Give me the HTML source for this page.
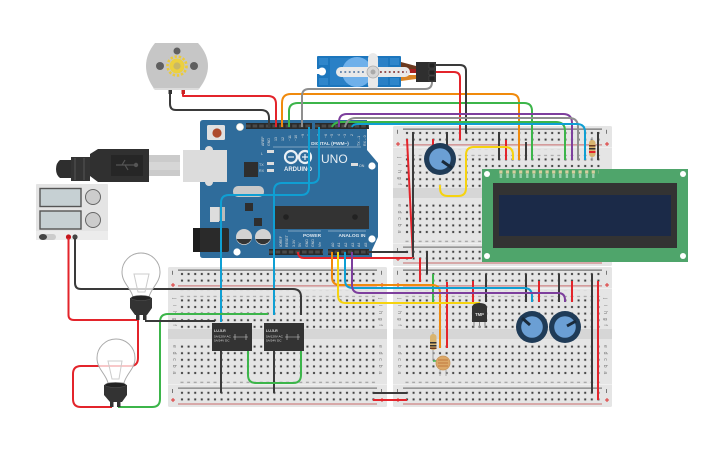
<!DOCTYPE html>
<html><head><meta charset="utf-8"><style>
html,body{margin:0;padding:0;background:#fff}
svg{display:block}
text{font-family:"Liberation Sans",sans-serif}
.w{fill:none;stroke-width:2;stroke-linecap:butt;stroke-linejoin:round}
.r{stroke:#e3242b}.k{stroke:#3a3a3a}.g{stroke:#3cb54a}.o{stroke:#f08a0c}.p{stroke:#7d3f9d}.b{stroke:#0f9fd3}.y{stroke:#f6d30f}.n{stroke:#8f8f8f}
.l{font-size:3.6px;fill:#ddd}
.bl{font-size:5px;fill:#777}
</style></head><body>
<svg width="725" height="453" viewBox="0 0 725 453" xmlns="http://www.w3.org/2000/svg">
<defs>
<pattern id="h" patternUnits="userSpaceOnUse" x="10.7" y="3.7" width="6.6" height="6.6"><rect width="6.6" height="6.6" fill="none"/><circle cx="3.3" cy="3.3" r="1.5" fill="#c9c9c9"/><rect x="2.4" y="2.4" width="1.8" height="1.8" fill="#3d3d3d"/></pattern>
<pattern id="d" patternUnits="userSpaceOnUse" x="10.7" y="0" width="6.6" height="6.6"><rect x="1.8" y="2.5" width="3" height="1.4" fill="#a8a8a8"/></pattern>
<g id="bb">
<rect x="0" y="0" width="219" height="140" rx="1.5" fill="#e5e5e5"/>
<rect x="0" y="21" width="219" height="1" fill="#efefef"/>
<rect x="0" y="117" width="219" height="1" fill="#efefef"/>
<rect x="0" y="62" width="219" height="10" fill="#d6d6d6"/>
<rect x="10" y="2.6" width="199" height="1" fill="#555"/>
<rect x="10" y="18.4" width="199" height="1" fill="#c96a6a"/>
<rect x="10" y="120.6" width="199" height="1" fill="#666"/>
<rect x="10" y="136.5" width="199" height="1" fill="#c96a6a"/>
<rect x="10.7" y="3.7" width="198" height="13.2" fill="url(#h)"/>
<rect x="10.7" y="30.1" width="198" height="33" fill="url(#h)"/>
<rect x="10.7" y="76.9" width="198" height="33" fill="url(#h)"/>
<rect x="10.7" y="122.5" width="198" height="13.2" fill="url(#h)"/>
<rect x="10.7" y="23.6" width="198" height="6.6" fill="url(#d)"/>
<rect x="10.7" y="110" width="198" height="6.6" fill="url(#d)"/>
<rect x="4" y="3.8" width="1" height="4" fill="#777"/><rect x="213" y="3.8" width="1" height="4" fill="#777"/>
<rect x="4" y="122" width="1" height="4" fill="#777"/><rect x="213" y="122" width="1" height="4" fill="#777"/>
<path d="M3 18h4M5 16v4M212 18h4M214 16v4M3 133h4M5 131v4M212 133h4M214 131v4" stroke="#d33" stroke-width="1" fill="none"/>
</g>
</defs>

<!-- breadboards -->
<use href="#bb" transform="translate(393,126)"/>
<use href="#bb" transform="translate(393,267)"/>
<use href="#bb" transform="translate(168,267)"/>
<text class="bl" transform="translate(398,157) rotate(90)" x="0 6.6 13.2 19.8 26.4">jihgf</text>
<text class="bl" transform="translate(398,204) rotate(90)" x="0 6.6 13.2 19.8 26.4">edcba</text>
<text class="bl" transform="translate(398,298) rotate(90)" x="0 6.6 13.2 19.8 26.4">jihgf</text>
<text class="bl" transform="translate(398,345) rotate(90)" x="0 6.6 13.2 19.8 26.4">edcba</text>
<text class="bl" transform="translate(604,298) rotate(90)" x="0 6.6 13.2 19.8 26.4">jihgf</text>
<text class="bl" transform="translate(604,345) rotate(90)" x="0 6.6 13.2 19.8 26.4">edcba</text>
<text class="bl" transform="translate(173,298) rotate(90)" x="0 6.6 13.2 19.8 26.4">jihgf</text>
<text class="bl" transform="translate(173,345) rotate(90)" x="0 6.6 13.2 19.8 26.4">edcba</text>
<text class="bl" transform="translate(379,298) rotate(90)" x="0 6.6 13.2 19.8 26.4">jihgf</text>
<text class="bl" transform="translate(379,345) rotate(90)" x="0 6.6 13.2 19.8 26.4">edcba</text>

<!-- motor -->
<path d="M155 43H198Q208 54 208 66Q208 78 198 90H155Q146 78 146 66Q146 54 155 43Z" fill="#c6c6c6"/>
<path d="M153 88H200L198 90H155Z" fill="#dcdcdc"/>
<circle cx="177" cy="51" r="3.5" fill="#5f5f5f"/><circle cx="160" cy="66" r="4" fill="#5f5f5f"/><circle cx="194" cy="66" r="4" fill="#5f5f5f"/>
<circle cx="177" cy="66" r="9.5" fill="none" stroke="#eccb3a" stroke-width="2.6" stroke-dasharray="2.4 1.8"/>
<circle cx="177" cy="66" r="7.5" fill="#ecd03f"/><circle cx="177" cy="66" r="3.6" fill="#c9b866"/>
<rect x="168.5" y="90" width="3.5" height="4" fill="#333"/><rect x="181.5" y="90" width="3.5" height="4" fill="#c22"/>

<!-- USB -->
<rect x="149" y="155" width="31" height="21" fill="#cbcbcb"/><rect x="149" y="162" width="31" height="8" fill="#d6d6d6"/>
<path d="M60 160H71V178H60Q56 175 56 169Q56 163 60 160Z" fill="#2e2e2e"/>
<path d="M71 157H90V181H71Z" fill="#333"/><path d="M75 158v22M84 158v22" stroke="#555" stroke-width="1"/>
<path d="M90 154L98 149H149V182H98L90 176Z" fill="#303030"/>
<rect x="111" y="155" width="32" height="21" fill="#262626"/>
<path d="M116 165H137M122 165L125 160M125 165L128 170" stroke="#555" stroke-width="1.2" fill="none"/><circle cx="136" cy="165" r="2.2" fill="#555"/>

<!-- power supply -->
<rect x="36" y="184" width="72" height="56" rx="1" fill="#e4e4e4"/>
<rect x="36" y="231" width="72" height="9" fill="#ececec"/>
<rect x="40" y="188.500" width="41" height="18" fill="#c6d0d3" stroke="#555" stroke-width="1.4"/>
<rect x="40" y="211" width="41" height="18" fill="#c6d0d3" stroke="#555" stroke-width="1.4"/>
<circle cx="93" cy="197" r="7.500" fill="#ccc" stroke="#666" stroke-width="1"/>
<circle cx="93" cy="220" r="7.500" fill="#ccc" stroke="#666" stroke-width="1"/>
<rect x="39" y="234" width="17" height="6" rx="3" fill="#ccc"/><ellipse cx="43" cy="237" rx="4" ry="3" fill="#444"/>
<circle cx="68.500" cy="237" r="2.600" fill="#c3161c"/><circle cx="75" cy="237" r="2.600" fill="#444"/>

<!-- arduino -->
<path d="M203 120H367L367 150L378 163V237L372 250V258H203Q200 258 200 255V123Q200 120 203 120Z" fill="#2f6c9b"/>
<rect x="246" y="123" width="66" height="6" fill="#2a2a2a"/><rect x="315" y="123" width="54" height="6" fill="#2a2a2a"/>
<rect x="269" y="249" width="54" height="6" fill="#2a2a2a"/><rect x="328" y="249" width="41" height="6" fill="#2a2a2a"/>
<path d="M246 126H312M315 126H369M269 252H323M328 252H369" stroke="#4a4a4a" stroke-width="3" stroke-dasharray="4.600 2"/>
<circle cx="240" cy="127" r="3.600" fill="#fff" stroke="#ddc" stroke-width=".6"/><circle cx="372" cy="166" r="3.600" fill="#fff"/><circle cx="372" cy="239" r="3.600" fill="#fff"/><circle cx="237" cy="252" r="3.600" fill="#fff"/>
<rect x="207" y="125" width="18" height="15" rx="1.500" fill="#e0e0e0"/><circle cx="217" cy="133" r="4.600" fill="#ad4a2b"/>
<circle cx="209" cy="150" r="4" fill="#dcdcdc"/><circle cx="209" cy="182" r="4" fill="#dcdcdc"/>
<rect x="183" y="150" width="44" height="32" fill="#dcdcdc"/>
<rect x="244" y="162" width="14" height="15" fill="#2e2e2e"/>
<rect x="233" y="186" width="31" height="11" rx="5" fill="#c9c9c9"/>
<rect x="245" y="203" width="8" height="8" fill="#2e2e2e"/><rect x="210" y="207" width="9" height="15" fill="#ddd"/><rect x="219" y="207" width="6" height="14" fill="#bbb"/>
<rect x="254" y="218" width="8" height="8" fill="#2e2e2e"/>
<rect x="273" y="206" width="96" height="23" fill="#333"/>
<circle cx="286" cy="217" r="2.800" fill="#222"/><circle cx="355" cy="217" r="2.800" fill="#222"/>
<rect x="193" y="228" width="36" height="24" rx="2" fill="#2a2a2a"/><rect x="193" y="228" width="7" height="24" fill="#1d1d1d"/>
<circle cx="244" cy="237" r="8" fill="#d2d2d2"/><path d="M236.500 239A8 8 0 0 0 251.500 239Z" fill="#333"/>
<circle cx="263" cy="237" r="8" fill="#d2d2d2"/><path d="M255.500 239A8 8 0 0 0 270.500 239Z" fill="#333"/>
<path d="M273 147H361M288 231H321M328 231H366" stroke="#cfdbe5" stroke-width=".6"/>
<circle cx="291" cy="157" r="6" fill="none" stroke="#eaf0f5" stroke-width="2.200"/><circle cx="305" cy="157" r="6" fill="none" stroke="#eaf0f5" stroke-width="2.200"/>
<path d="M288 157h6M302 157h6M305 154v6" stroke="#eaf0f5" stroke-width="1.200"/>
<text x="298" y="171" text-anchor="middle" font-size="6" font-weight="bold" fill="#e8eef3">ARDUINO</text>
<text x="321" y="163" font-size="12" fill="#e8eef3">UNO</text>
<text x="330" y="145" text-anchor="middle" font-size="4.800" font-weight="bold" fill="#dce6ee">DIGITAL (PWM~)</text>
<text x="312" y="237" text-anchor="middle" font-size="4.800" font-weight="bold" fill="#dce6ee">POWER</text>
<text x="352" y="237" text-anchor="middle" font-size="4.800" font-weight="bold" fill="#dce6ee">ANALOG IN</text>
<g class="l">
<text transform="translate(264,146) rotate(-90)">AREF</text><text transform="translate(270,146) rotate(-90)">GND</text>
<text transform="translate(277,141) rotate(-90)">13</text><text transform="translate(284,141) rotate(-90)">12</text><text transform="translate(291,141) rotate(-90)">~11</text><text transform="translate(297,141) rotate(-90)">~10</text><text transform="translate(304,138) rotate(-90)">~9</text><text transform="translate(310,136) rotate(-90)">8</text>
<text transform="translate(320,136) rotate(-90)">7</text><text transform="translate(327,138) rotate(-90)">~6</text><text transform="translate(333,138) rotate(-90)">~5</text><text transform="translate(340,136) rotate(-90)">4</text><text transform="translate(346,138) rotate(-90)">~3</text><text transform="translate(353,136) rotate(-90)">2</text><text transform="translate(360,146) rotate(-90)">TX→1</text><text transform="translate(366,146) rotate(-90)">RX←0</text>
<text transform="translate(282,247) rotate(-90)">IOREF</text><text transform="translate(288,247) rotate(-90)">RESET</text><text transform="translate(295,247) rotate(-90)">3.3V</text><text transform="translate(301,247) rotate(-90)">5V</text><text transform="translate(308,247) rotate(-90)">GND</text><text transform="translate(314,247) rotate(-90)">GND</text><text transform="translate(321,247) rotate(-90)">Vin</text>
<text transform="translate(334,247) rotate(-90)">A0</text><text transform="translate(340,247) rotate(-90)">A1</text><text transform="translate(347,247) rotate(-90)">A2</text><text transform="translate(354,247) rotate(-90)">A3</text><text transform="translate(360,247) rotate(-90)">A4</text><text transform="translate(367,247) rotate(-90)">A5</text>
<text x="261" y="155" font-size="3.600">L</text><text x="259" y="166">TX</text><text x="259" y="172">RX</text><text x="359" y="167">ON</text>
</g>
<rect x="267" y="150" width="7" height="3" fill="#ddd"/><rect x="267" y="162" width="7" height="3" fill="#ddd"/><rect x="267" y="169" width="7" height="3" fill="#ddd"/><rect x="351" y="163" width="7" height="3" fill="#ddd"/>

<!-- servo -->
<rect x="317" y="56" width="84" height="31" rx="1" fill="#1c76bd"/>
<rect x="319" y="58" width="9" height="7" fill="#2f86cb"/><rect x="319" y="78" width="9" height="7" fill="#2f86cb"/><rect x="390" y="58" width="9" height="7" fill="#2f86cb"/><rect x="390" y="78" width="9" height="7" fill="#2f86cb"/>
<circle cx="322" cy="71.500" r="4" fill="#fff"/><rect x="316" y="69" width="6" height="5" fill="#fff"/>
<rect x="330" y="58" width="58" height="27" fill="#2a80c6"/><circle cx="357" cy="72" r="15" fill="#6fb0ea"/>
<path d="M401 62L416 66V70L401 68Z" fill="#6b3a20"/><path d="M401 69H416V73H401Z" fill="#a82020"/><path d="M401 75L416 75V79L401 81Z" fill="#d98425"/>
<rect x="336" y="67" width="74" height="10" rx="5" fill="#e9e9e9"/>
<rect x="368" y="53" width="10" height="37" rx="5" fill="#e9e9e9"/>
<circle cx="373" cy="72" r="6" fill="#d6d6d6" stroke="#aaa" stroke-width=".8"/><circle cx="373" cy="72" r="2.500" fill="#aaa"/>
<path d="M340 72H366" stroke="#5b7ea8" stroke-width="1.800" stroke-dasharray="1.800 2.600"/>
<path d="M380 72H407" stroke="#8a3a3a" stroke-width="1.800" stroke-dasharray="1.800 2.600"/>
<rect x="416" y="62" width="20" height="20" fill="#2f2f2f"/><path d="M429 63h6v5h-6zM429 70h6v5h-6zM429 76h6v5h-6z" fill="#222" stroke="#555" stroke-width=".5"/>

<!-- top wires -->
<path class="w k" d="M170 94V104Q170 110 176 110H261Q269 110 269 118V127"/>
<path class="w r" d="M183 94V96H268Q276 96 276 104V127"/>
<path class="w o" d="M282 127V103Q282 94 291 94H511Q519 94 519 102V160"/>
<path class="w g" d="M289 127V111Q289 103 298 103H524Q532 103 532 111V160"/>
<path class="w n" d="M302 127V96Q302 89 309 89H425Q432 89 432 82"/>
<path class="w k" d="M436 65H460Q466 65 466 71V133"/>
<path class="w r" d="M436 72H454Q460 72 460 78V140"/>
<path class="w g" d="M332 127Q334 122 342 122H556Q565 122 565 131V160"/>
<path class="w p" d="M339 127V122Q339 114 347 114H563Q572 114 572 123V160"/>
<path class="w n" d="M345 127Q347 118 356 118H569Q578 118 578 127V160"/>
<path class="w b" d="M352 127Q353 124 358 124H577Q585 124 585 132V160"/>

<path class="w b" d="M309 127V187Q309 195 301 195H229Q221 195 221 203V322"/>
<path class="w b" d="M319 127V175Q319 183 311 183H282Q274 183 274 191V315"/>

<!-- board A wires -->
<path class="w r" d="M407 139L413 258"/>
<path class="w k" d="M413 132V257"/>
<path class="w r" d="M433 139V145"/>
<path class="w k" d="M447 132V152"/>
<path class="w k" d="M499 132V160"/><path class="w r" d="M506 140V160"/><path class="w k" d="M526 142V160"/><path class="w k" d="M598 132V160"/>
<path class="w y" d="M513 160V155Q513 147 505 147H474Q466 147 466 155V188Q466 196 458 196H448Q440 196 440 188V185"/>

<!-- resistor A -->
<path d="M592 137V160" stroke="#aaa" stroke-width="1.200"/>
<rect x="589" y="140" width="6.500" height="17" rx="3" fill="#d9b46f"/>
<rect x="589" y="145" width="6.500" height="1.500" fill="#6b3a20"/><rect x="589" y="148" width="6.500" height="1.500" fill="#333"/><rect x="589" y="151" width="6.500" height="2" fill="#e3242b"/>

<!-- pot top -->
<circle cx="440" cy="159" r="16" fill="#1f3b57"/><circle cx="440" cy="159" r="10.800" fill="#6b9fd4"/>
<path d="M442 161L452 168" stroke="#1a2a3a" stroke-width="3"/>

<!-- LCD -->
<rect x="482" y="169" width="206" height="93" fill="#4fa56b"/>
<rect x="493" y="183" width="184" height="65" fill="#333"/>
<rect x="499" y="195" width="172" height="41" fill="#1b2a48"/>
<circle cx="487" cy="174" r="3" fill="#fff"/><circle cx="683" cy="174" r="3" fill="#fff"/><circle cx="487" cy="256" r="3" fill="#fff"/><circle cx="683" cy="256" r="3" fill="#fff"/>
<path d="M499.300 172H598.600" stroke="#d6cf9f" stroke-width="3.200" stroke-dasharray="3.200 3.400"/>
<path d="M499.300 176H598.600" stroke="#9ed0ae" stroke-width="4" stroke-dasharray="2.400 4.200" stroke-dashoffset="-.4"/>

<!-- middle wires -->
<path class="w k" d="M367 252H408"/>
<path class="w r" d="M298 252Q298 258 304 258H412"/>
<path class="w r" d="M420 258V282"/><path class="w k" d="M427 251V274"/>
<path class="w g" d="M433 274V302"/><path class="w r" d="M473 281V302"/><path class="w k" d="M486 274V302"/>
<path class="w k" d="M526 274V302"/><path class="w r" d="M539 281V302"/><path class="w k" d="M559 274V302"/><path class="w r" d="M572 281V302"/>
<path class="w k" d="M592 274V393"/><path class="w r" d="M598 281V400"/>
<path class="w r" d="M447 282V348"/>
<path class="w o" d="M332 252V277Q332 285 340 285H432Q440 285 440 293V348"/>
<path class="w y" d="M338 252V295Q338 303 346 303H480"/>
<path class="w b" d="M345 252V280Q345 288 353 288H524Q532 288 532 296V302"/>
<path class="w p" d="M352 252V285Q352 293 360 293H558Q565 293 565 300V302"/>

<!-- board C wires -->
<path class="w k" d="M75 238V283Q75 289 81 289H293Q301 289 301 297V315"/>
<path class="w r" d="M68.500 238V315Q68.500 320 74 320H138V358Q138 366 130 366H81Q73 366 73 374V399Q73 407 81 407H112"/>
<path class="w g" d="M118 407H152Q160 407 160 399V322Q160 314 168 314H268"/>
<path class="w k" d="M145 321H215"/>
<path class="w k" d="M221 351V393"/><path class="w k" d="M274 351V393"/>
<path class="w g" d="M248 351V375Q248 383 256 383H293Q301 383 301 375V351"/>
<path class="w k" d="M373 393H407"/><path class="w r" d="M373 400H407"/>

<!-- relays -->
<rect x="212" y="323" width="40" height="28" fill="#333"/><rect x="264" y="323" width="40" height="28" fill="#333"/>
<text x="214" y="332" font-size="3.600" font-weight="bold" fill="#ddd">LU-5-R</text>
<text x="214" y="337.500" font-size="3.100" fill="#ddd">5A/120V AC</text><text x="214" y="341.500" font-size="3.100" fill="#ddd">5A/24V DC</text>
<path d="M233 337H248M235 334v6M246 334v6" stroke="#ccc" stroke-width=".6" fill="none"/>
<text x="266" y="332" font-size="3.600" font-weight="bold" fill="#ddd">LU-5-R</text>
<text x="266" y="337.500" font-size="3.100" fill="#ddd">5A/120V AC</text><text x="266" y="341.500" font-size="3.100" fill="#ddd">5A/24V DC</text>
<path d="M285 337H300M287 334v6M298 334v6" stroke="#ccc" stroke-width=".6" fill="none"/>

<!-- bulbs -->
<path d="M133 297C131 288 122 283 122 272A19 19 0 0 1 160 272C160 283 151 288 149 297Z" fill="#fff" fill-opacity=".75" stroke="#aaa" stroke-width="1"/>
<path d="M134 274H149L145 292H138Z" fill="none" stroke="#ccc" stroke-width="1"/>
<path d="M130 298Q141 294 152 298V308L147 315H135L130 308Z" fill="#333"/><ellipse cx="141" cy="298" rx="10" ry="2.500" fill="#222" stroke="#555" stroke-width=".5"/>
<rect x="136" y="314" width="3.500" height="6" fill="#333"/><rect x="143" y="314" width="3.500" height="6" fill="#333"/>
<path d="M108 383C106 374 97 369 97 358A19 19 0 0 1 135 358C135 369 126 374 124 383Z" fill="#fff" fill-opacity=".75" stroke="#aaa" stroke-width="1"/>
<path d="M108 361H122L119 379H112Z" fill="none" stroke="#ccc" stroke-width="1"/>
<path d="M104 385Q115 381 127 385V395L122 402H110L104 395Z" fill="#333"/><ellipse cx="115.500" cy="385" rx="10.500" ry="2.500" fill="#222" stroke="#555" stroke-width=".5"/>
<rect x="110" y="401" width="3.500" height="6" fill="#333"/><rect x="117" y="401" width="3.500" height="6" fill="#333"/>

<!-- resistor B + LDR -->
<path d="M433 332V361" stroke="#aaa" stroke-width="1.200"/>
<rect x="430" y="334" width="6.500" height="16" rx="3" fill="#d9b46f"/>
<rect x="430" y="342" width="6.500" height="1.500" fill="#333"/><rect x="430" y="345" width="6.500" height="1.500" fill="#333"/><rect x="430" y="347.500" width="6.500" height="1.500" fill="#6b3a20"/>
<path d="M433 361H438" stroke="#3cb54a" stroke-width="1.500"/>
<path d="M440 370V376M446 370V376" stroke="#aaa" stroke-width="1"/>
<circle cx="443" cy="363" r="7" fill="#dba868" stroke="#c9955a" stroke-width=".8"/>
<path d="M438 360H448M438 363H448M438 366H448" stroke="#b86a30" stroke-width=".8"/>

<!-- tmp -->
<path d="M474 322V328M479.500 322V328M485 322V328" stroke="#888" stroke-width="1"/>
<path d="M472 308Q472 303 479.500 303Q487 303 487 308V322H472Z" fill="#333"/>
<text x="479.500" y="316" text-anchor="middle" font-size="4.200" font-weight="bold" fill="#ddd">TMP</text>

<!-- pots -->
<circle cx="532" cy="327" r="16" fill="#1f3b57"/><circle cx="532" cy="327" r="10.800" fill="#6b9fd4"/><path d="M530 325L522 318" stroke="#1a2a3a" stroke-width="3"/>
<circle cx="565" cy="327" r="16" fill="#1f3b57"/><circle cx="565" cy="327" r="10.800" fill="#6b9fd4"/><path d="M567 326L576 321" stroke="#1a2a3a" stroke-width="3"/>
</svg>
</body></html>
